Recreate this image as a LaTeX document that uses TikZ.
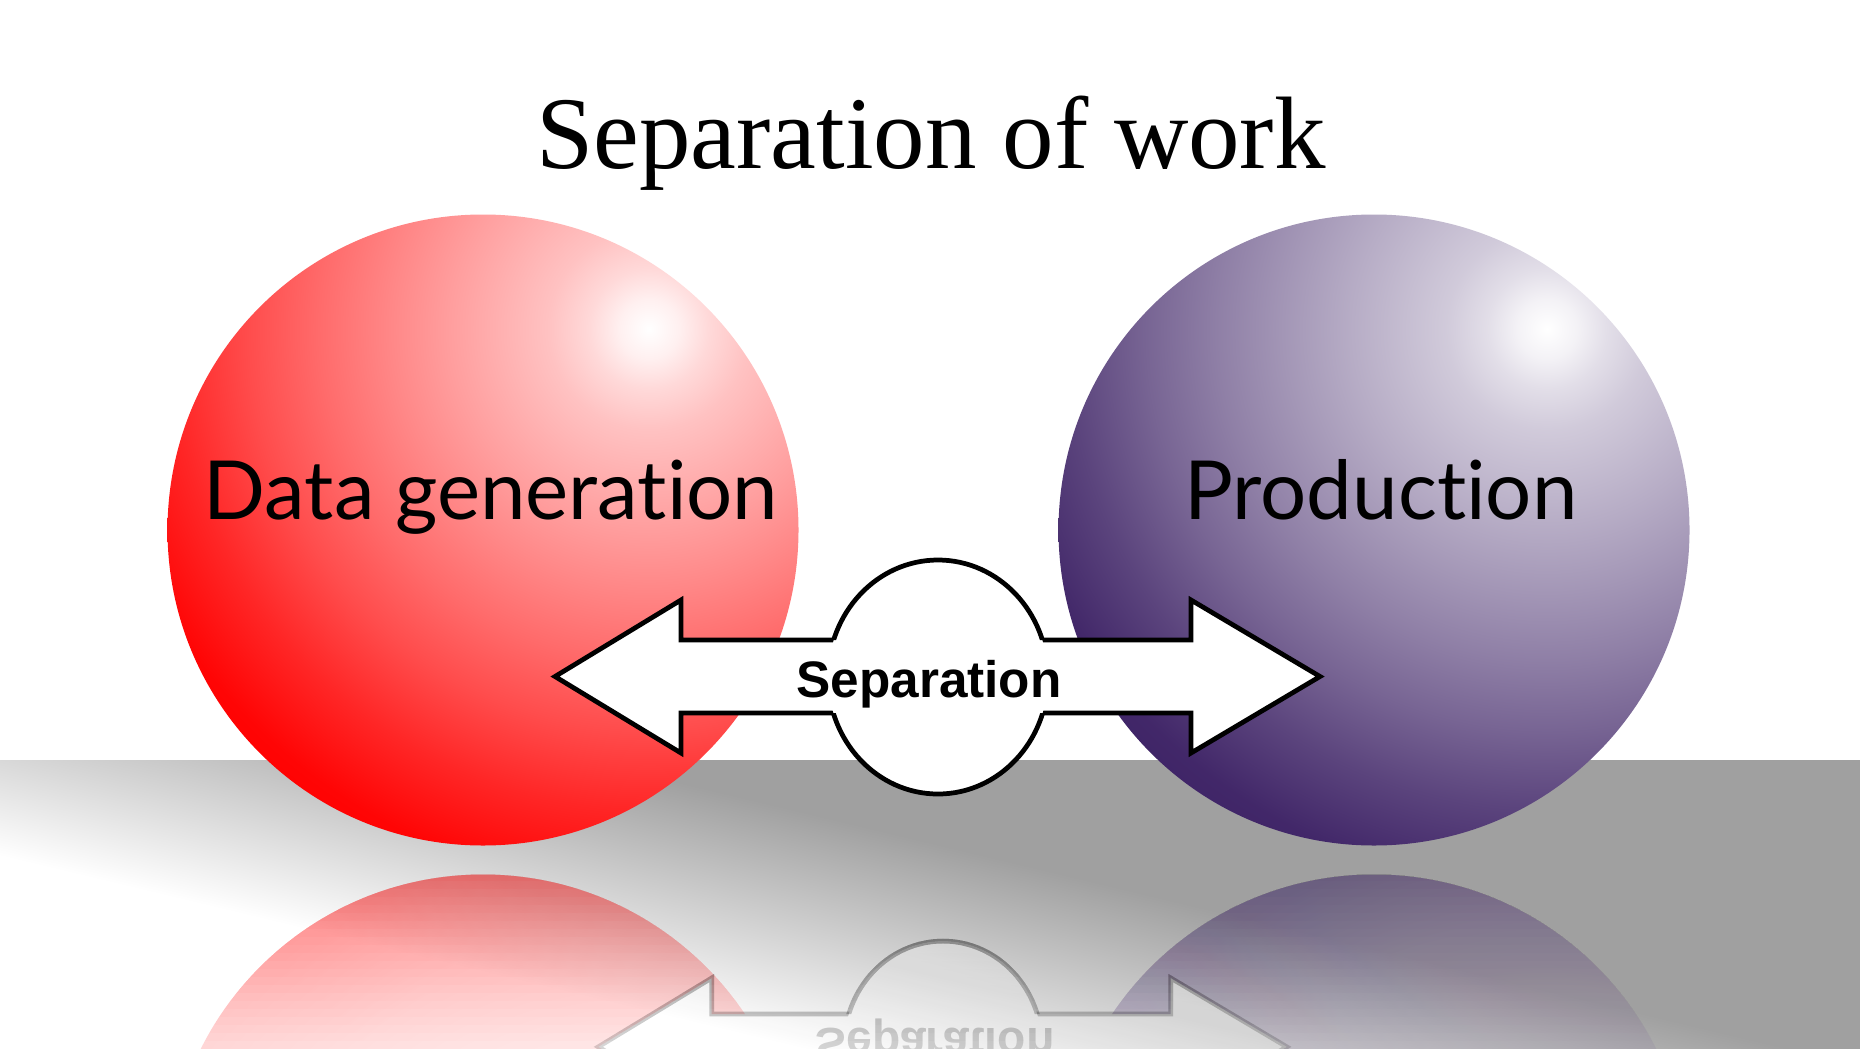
\documentclass[tikz,border=0pt]{standalone}
\usepackage{fontspec}
\usepackage{tikz}
\newfontfamily\titlefont{Liberation Serif}
\newfontfamily\labelfont[Ligatures=NoCommon]{Lato}
\newfontfamily\arrowfont{Liberation Sans}

\definecolor{floorgray}{RGB}{160,160,160}
\definecolor{purp}{RGB}{62,35,102}
\pgfdeclareradialshading{redglow}{\pgfpoint{0bp}{0bp}}{%
  color(0bp)=(white); color(1.25bp)=(red!6); color(2.5bp)=(red!15);
  color(4.2bp)=(red!24); color(8.3bp)=(red!38); color(10.8bp)=(red!47);
  color(13.75bp)=(red!58); color(16.7bp)=(red!70); color(20bp)=(red!85);
  color(23.3bp)=(red!98); color(25bp)=(red); color(50bp)=(red)}
\pgfdeclareradialshading{purpleglow}{\pgfpoint{0bp}{0bp}}{%
  color(0bp)=(white); color(1.25bp)=(purp!6); color(2.5bp)=(purp!15);
  color(4.2bp)=(purp!24); color(8.3bp)=(purp!38); color(10.8bp)=(purp!47);
  color(13.75bp)=(purp!58); color(16.7bp)=(purp!70); color(20bp)=(purp!85);
  color(23.3bp)=(purp!98); color(25bp)=(purp); color(50bp)=(purp)}

\newcommand{\sepshape}{(5.55,-6.765) -- (6.81,-7.53) -- (6.81,-7.13)
  -- (11.91,-7.13) -- (11.91,-7.53) -- (13.2,-6.765) -- (11.91,-6.0)
  -- (11.91,-6.4) -- (6.81,-6.4) -- (6.81,-6.0) -- cycle}
\newcommand{\sepring}{(9.38,-6.77) ellipse (1.1 and 1.17)}

\tikzset{
  sepline/.style={draw=black, line width=1.35pt},
  septext/.style={font=\arrowfont\bfseries\fontsize{14.6}{17}\selectfont,
      inner sep=0pt, anchor=base, transform shape},
  ballname/.style={font=\labelfont\fontsize{23.2}{28}\selectfont, inner sep=0pt, anchor=base},
  titletext/.style={font=\titlefont\fontsize{29.3}{35}\selectfont, inner sep=0pt, anchor=base},
  ballmirror/.style={shift={(0,-17.2)}, yscale=-1},
  arrowmirror/.style={shift={(9.43,-9.42)}, xscale=0.9, yscale=-0.9, shift={(-9.38,7.93)}}
}

\newcommand{\ball}[3]{%
  \begin{scope}
    \clip #1 circle (3.155);
    \shade[shading=#3] #2 circle (6);
  \end{scope}}

\newcommand{\sepgroup}[2]{%
  \fill[white, opacity=#1] \sepshape \sepring;
  \begin{scope}[even odd rule]
    \clip (-30,-30) rectangle (40,30) \sepring;
    \draw[sepline, opacity=#1] \sepshape;
  \end{scope}
  \begin{scope}[even odd rule]
    \clip (-30,-30) rectangle (40,30) \sepshape;
    \draw[sepline, opacity=#1] \sepring;
  \end{scope}
  \node[septext, opacity=#1] (#2) at (9.29,-6.97) {Separation};}

\begin{document}
\begin{tikzpicture}
  \useasboundingbox (0,0) rectangle (18.6,-10.48);
  \fill[white] (0,0) rectangle (18.6,-10.48);

  % floor
  \begin{scope}
    \clip (0,-7.6) rectangle (18.6,-10.48);
    \begin{scope}[transform canvas={yslant=-0.24}]
      \fill[floorgray] (0,-12) rectangle (18.6,-2);
      \fill[white] (0,-12) rectangle (18.6,-8.55);
      \shade[bottom color=white, top color=floorgray] (0,-8.56) rectangle (18.6,-6.19);
    \end{scope}
  \end{scope}

  % reflections, faded by stacked layers
  \foreach \k in {0,...,21} {
    \pgfmathsetmacro{\ybot}{-8.8-0.08*\k}
    \pgfmathsetmacro{\op}{\k<21 ? 0.0162/(0.5162+0.0162*\k) : 0.16}
    \begin{scope}
      \clip (0,-8.6) rectangle (18.6,\ybot);
      \begin{scope}[arrowmirror, even odd rule]
        \clip (-30,-30) rectangle (40,30) \sepshape \sepring;
        \begin{scope}[reset cm, ballmirror, opacity=\op, nonzero rule]
          \ball{(4.83,-5.30)}{(6.49,-3.29)}{redglow}
          \ball{(13.74,-5.30)}{(15.47,-3.29)}{purpleglow}
        \end{scope}
      \end{scope}
      \begin{scope}[arrowmirror]
        \sepgroup{\op}{sep\k}
      \end{scope}
    \end{scope}
  }

  % spheres
  \ball{(4.83,-5.30)}{(6.49,-3.29)}{redglow}
  \ball{(13.74,-5.30)}{(15.47,-3.29)}{purpleglow}
  \node[ballname] (datagen) at (4.91,-5.19) {Data generation};
  \node[ballname] (production) at (13.81,-5.19) {Production};

  % double arrow and ring
  \sepgroup{1}{sep}

  \node[titletext] (title) at (9.31,-1.685) {Separation of work};
\end{tikzpicture}
\end{document}
